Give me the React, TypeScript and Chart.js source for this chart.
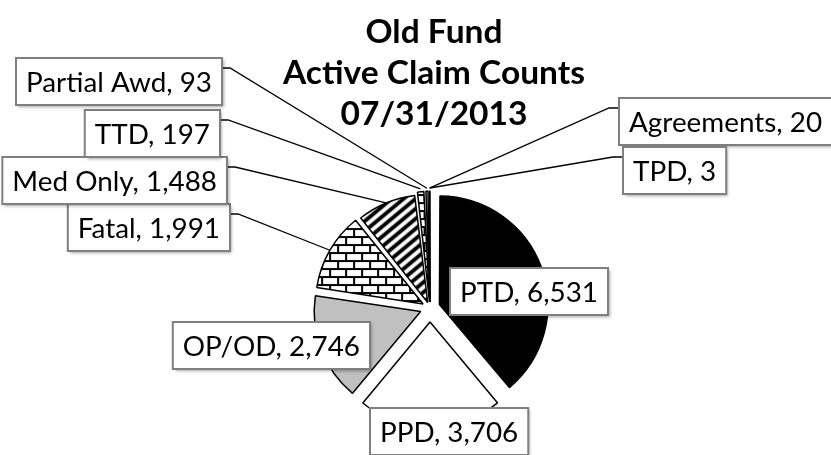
import React, { useEffect, useRef } from 'react';
import { Chart, registerables } from 'chart.js';

Chart.register(...registerables);

// ---- data ----
const categories = ['PTD', 'PPD', 'OP/OD', 'Fatal', 'Med Only', 'TTD', 'Partial Awd', 'Agreements', 'TPD'];
const claimCounts = [6531, 3706, 2746, 1991, 1488, 197, 93, 20, 3];
const titleLines = ['Old Fund', 'Active Claim Counts', '07/31/2013'];

// ---- style / layout ----
const sliceOffsets = [40, 56, 40, 32, 24, 24, 24, 24, 24];
type Fill = 'black' | 'white' | 'gray' | 'brick' | 'stripes';
const sliceFills: Fill[] = ['black', 'white', 'gray', 'brick', 'stripes', 'brick', 'white', 'black', 'white'];
type LabelLayout = { side: 'left' | 'right'; edge: number; top: number; leader: boolean };
const labelLayout: LabelLayout[] = [
  { side: 'left', edge: 450, top: 268, leader: false },
  { side: 'left', edge: 370, top: 408, leader: false },
  { side: 'right', edge: 370, top: 322, leader: false },
  { side: 'right', edge: 230, top: 204, leader: true },
  { side: 'right', edge: 227, top: 157, leader: true },
  { side: 'right', edge: 220, top: 110, leader: true },
  { side: 'right', edge: 222, top: 58, leader: true },
  { side: 'left', edge: 619, top: 98, leader: true },
  { side: 'left', edge: 623, top: 147, leader: true },
];
const titleBaselines = [43, 84, 125];
const titleCenterX = 434;

function brickPattern(ctx: CanvasRenderingContext2D): CanvasPattern {
  const c = document.createElement('canvas');
  c.width = 16; c.height = 16;
  const g = c.getContext('2d')!;
  g.fillStyle = '#fff'; g.fillRect(0, 0, 16, 16);
  g.fillStyle = '#000';
  g.fillRect(0, 0, 16, 2); g.fillRect(0, 8, 16, 2);
  g.fillRect(0, 2, 2, 6); g.fillRect(8, 10, 2, 6);
  return ctx.createPattern(c, 'repeat')!;
}

function stripePattern(ctx: CanvasRenderingContext2D): CanvasPattern {
  const w = 12;
  const h = 10;
  const c = document.createElement('canvas');
  c.width = w; c.height = h;
  const g = c.getContext('2d')!;
  g.fillStyle = '#fff'; g.fillRect(0, 0, w, h);
  g.fillStyle = '#000';
  for (const j of [-h, 0, h]) {
    g.beginPath();
    g.moveTo(0, h + j);
    g.lineTo(w, j);
    g.lineTo(w, j + 5);
    g.lineTo(0, h + j + 5);
    g.closePath();
    g.fill();
  }
  return ctx.createPattern(c, 'repeat')!;
}

function drawScaledText(ctx: CanvasRenderingContext2D, text: string, x: number, y: number, sx: number) {
  ctx.save();
  ctx.translate(x, y);
  ctx.scale(sx, 1);
  ctx.textAlign = 'left';
  ctx.textBaseline = 'alphabetic';
  ctx.fillText(text, 0, 0);
  ctx.restore();
}

const labelPlugin = {
  id: 'boxLabels',
  afterDraw(chart: any) {
    const ctx: CanvasRenderingContext2D = chart.ctx;
    const meta = chart.getDatasetMeta(0);
    ctx.save();
    const labelFont = '27px Lato';
    ctx.font = labelFont;
    const sx = 186 / ctx.measureText('Partial Awd, 93').width;
    const boxH = 47;
    const pad = 10;
    const boxes = categories.map((cat, i) => {
      const text = `${cat}, ${claimCounts[i].toLocaleString('en-US')}`;
      const w = ctx.measureText(text).width * sx;
      const lay = labelLayout[i];
      const bw = w + pad * 2;
      const left = lay.side === 'left' ? lay.edge : lay.edge - bw;
      return { text, left, top: lay.top, bw, w, lay, i };
    });
    // leader lines
    ctx.strokeStyle = '#000';
    ctx.lineWidth = 1.3;
    boxes.forEach((b) => {
      if (!b.lay.leader) return;
      const arc = meta.data[b.i];
      const p = arc.getProps(['x', 'y', 'startAngle', 'endAngle', 'outerRadius', 'circumference']);
      const mid = (p.startAngle + p.endAngle) / 2;
      const off = (arc.options.offset || 0) / 4;
      const fix = 1 - Math.sin(Math.min(Math.PI, p.circumference || 0));
      const small = p.circumference < 0.1;
      const r = p.outerRadius + off + off * fix + (small ? 3 : 0);
      const ax = p.x + Math.cos(mid) * r;
      const ay = p.y + Math.sin(mid) * r;
      const ex = b.lay.side === 'left' ? b.left : b.left + b.bw;
      const ey = b.top + 10;
      const sxp = b.lay.side === 'left' ? ex - 10 : ex + 8;
      ctx.beginPath();
      ctx.moveTo(ex, ey);
      ctx.lineTo(sxp, ey);
      ctx.lineTo(ax, ay);
      ctx.stroke();
    });
    // boxes
    boxes.forEach((b) => {
      ctx.save();
      ctx.shadowColor = 'rgba(0,0,0,0.35)';
      ctx.shadowBlur = 3;
      ctx.shadowOffsetX = 2;
      ctx.shadowOffsetY = 2;
      ctx.fillStyle = '#fff';
      ctx.fillRect(b.left, b.top, b.bw, boxH);
      ctx.restore();
      ctx.strokeStyle = '#7f7f7f';
      ctx.lineWidth = 2;
      ctx.strokeRect(b.left, b.top, b.bw, boxH);
      ctx.fillStyle = '#000';
      ctx.font = labelFont;
      drawScaledText(ctx, b.text, b.left + pad, b.top + 34, sx);
    });
    // title
    const titleFont = 'bold 32px Lato';
    ctx.font = titleFont;
    const tsx = 302 / ctx.measureText('Active Claim Counts').width;
    ctx.fillStyle = '#000';
    titleLines.forEach((t, k) => {
      const w = ctx.measureText(t).width * tsx;
      drawScaledText(ctx, t, titleCenterX - w / 2, titleBaselines[k], tsx);
    });
    ctx.restore();
  },
};

export default function App() {
  const ref = useRef<HTMLCanvasElement | null>(null);
  useEffect(() => {
    const canvas = ref.current!;
    const ctx = canvas.getContext('2d')!;
    const patterns: Record<Fill, string | CanvasPattern> = {
      black: '#000000',
      white: '#ffffff',
      gray: '#c0c0c0',
      brick: brickPattern(ctx),
      stripes: stripePattern(ctx),
    };
    const chart = new Chart(canvas, {
      type: 'pie',
      data: {
        labels: categories,
        datasets: [
          {
            data: claimCounts,
            backgroundColor: sliceFills.map((f) => patterns[f]) as any,
            borderColor: '#000',
            borderWidth: 1.5,
            offset: sliceOffsets,
          } as any,
        ],
      },
      options: {
        responsive: false,
        animation: false,
        events: [],
        devicePixelRatio: 1,
        radius: 105,
        layout: { padding: { left: 29, top: 161, right: 0, bottom: 0 } },
        plugins: {
          legend: { display: false },
          tooltip: { enabled: false },
          title: { display: false },
        },
      } as any,
      plugins: [labelPlugin],
    });
    return () => chart.destroy();
  }, []);
  return (
    <div style={{ position: 'absolute', left: 0, top: 0, width: 831, height: 455, background: '#fff' }}>
      <canvas ref={ref} width={831} height={455} style={{ display: 'block' }} />
    </div>
  );
}
